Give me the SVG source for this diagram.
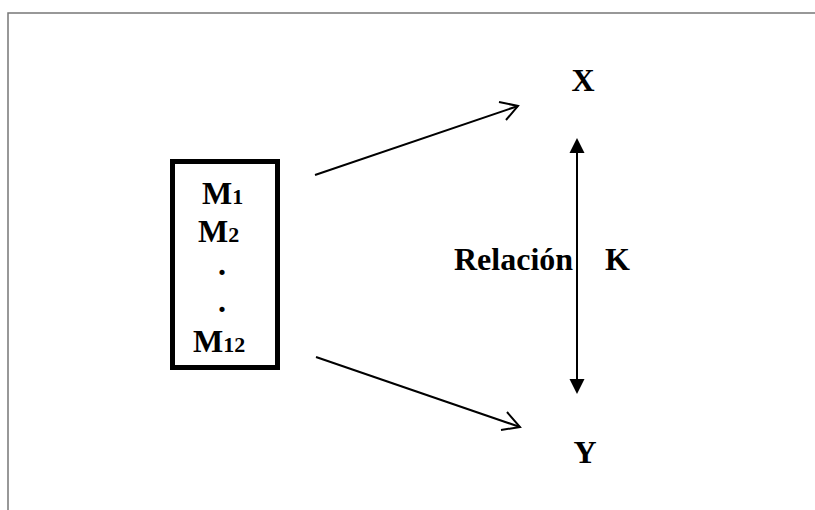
<svg xmlns="http://www.w3.org/2000/svg" width="815" height="510" viewBox="0 0 815 510">
<style>
text{font-family:'Liberation Serif','Times New Roman',serif;font-weight:bold;font-size:32px;fill:#000}
.sub{font-size:22px}
.ln{stroke:#000;stroke-width:2;fill:none}
</style>
<rect width="815" height="510" fill="#fff"/>
<g id="frame" stroke="#777" stroke-width="1.5" fill="none">
<path d="M8,510 L8,13 L815,13"/>
</g>
<g id="box">
<rect x="172.5" y="161.5" width="105" height="206" fill="#fff" stroke="#000" stroke-width="5"/>
<text x="202" y="204">M<tspan class="sub">1</tspan></text>
<text x="198" y="242">M<tspan class="sub">2</tspan></text>
<text x="222" y="275" text-anchor="middle">.</text>
<text x="222" y="312" text-anchor="middle">.</text>
<text x="193" y="352">M<tspan class="sub">12</tspan></text>
</g>
<g id="X"><text x="583" y="91" text-anchor="middle">X</text></g>
<g id="Y"><text x="585" y="463" text-anchor="middle">Y</text></g>
<g id="relacion"><text x="454" y="270">Relación</text></g>
<g id="K"><text x="605" y="270">K</text></g>
<g id="connectors">
<line class="ln" x1="315" y1="175" x2="518" y2="106"/>
<path class="ln" d="M499,102 L518,106 L506,120"/>
<line class="ln" x1="316" y1="357" x2="520" y2="427"/>
<path class="ln" d="M507,412 L520,427 L501,430"/>
<line class="ln" x1="577" y1="150" x2="577" y2="382"/>
<path d="M577,138 L584.5,153 L569.5,153 Z" fill="#000"/>
<path d="M577,394 L584.5,379 L569.5,379 Z" fill="#000"/>
</g>
</svg>
